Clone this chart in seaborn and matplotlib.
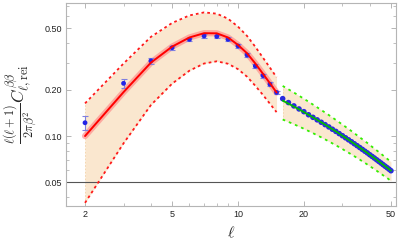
import numpy as np
import pandas as pd
import matplotlib
matplotlib.use('Agg')
import matplotlib.pyplot as plt
import matplotlib.ticker as mticker
import seaborn as sns

# low-ell part (red model, measured points)
ell_lo = [2, 3, 4, 5, 6, 7, 8, 9, 10, 11, 12, 13, 14, 15]
model_lo = [0.100, 0.193, 0.300, 0.381, 0.437, 0.466, 0.465, 0.437, 0.391, 0.345, 0.296, 0.254, 0.220, 0.192]
upper_lo = [0.163, 0.296, 0.441, 0.543, 0.608, 0.636, 0.624, 0.579, 0.514, 0.447, 0.380, 0.323, 0.278, 0.241]
lower_lo = [0.0368, 0.0897, 0.159, 0.219, 0.266, 0.296, 0.306, 0.295, 0.272, 0.243, 0.212, 0.185, 0.162, 0.143]
points_lo = [0.122, 0.220, 0.308, 0.375, 0.425, 0.447, 0.444, 0.425, 0.385, 0.336, 0.285, 0.247, 0.217, 0.192]
errors_lo = [0.013, 0.016, 0.015, 0.012, 0.010, 0.012, 0.012, 0.012, 0.011, 0.009, 0.008, 0.007, 0.006, 0.005]

# high-ell part (green model)
ell_hi = list(range(16, 51))
model_hi = [0.1698, 0.1624, 0.1555, 0.1491, 0.1431, 0.1375, 0.1323, 0.1274, 0.1229, 0.1186,
            0.1146, 0.1107, 0.1072, 0.1037, 0.1005, 0.0974, 0.0945, 0.0918, 0.0891, 0.0866,
            0.0842, 0.0819, 0.0797, 0.0777, 0.0756, 0.0737, 0.0719, 0.0701, 0.0684, 0.0668,
            0.0652, 0.0637, 0.0623, 0.0609, 0.0595]
upper_hi = [0.2116, 0.2012, 0.1917, 0.1829, 0.1747, 0.1672, 0.1602, 0.1537, 0.1477, 0.1421,
            0.1369, 0.1318, 0.1273, 0.1228, 0.1187, 0.1148, 0.1111, 0.1077, 0.1043, 0.1011,
            0.0981, 0.0953, 0.0925, 0.0901, 0.0875, 0.0851, 0.0829, 0.0807, 0.0787, 0.0767,
            0.0748, 0.0729, 0.0712, 0.0696, 0.0679]
lower_hi = [0.1280, 0.1236, 0.1193, 0.1153, 0.1115, 0.1078, 0.1044, 0.1011, 0.0981, 0.0951,
            0.0923, 0.0896, 0.0871, 0.0846, 0.0823, 0.0800, 0.0779, 0.0759, 0.0739, 0.0721,
            0.0703, 0.0685, 0.0669, 0.0653, 0.0637, 0.0623, 0.0609, 0.0595, 0.0581, 0.0569,
            0.0556, 0.0545, 0.0534, 0.0522, 0.0511]
points_hi = [0.175, 0.165, 0.157, 0.150, 0.144, 0.1375, 0.1323, 0.1274, 0.1229, 0.1186,
             0.1146, 0.1107, 0.1072, 0.1037, 0.1005, 0.0974, 0.0945, 0.0918, 0.0891, 0.0866,
             0.0842, 0.0819, 0.0797, 0.0777, 0.0756, 0.0737, 0.0719, 0.0701, 0.0684, 0.0668,
             0.0652, 0.0637, 0.0623, 0.0609, 0.0595]

threshold = 0.05

lo = pd.DataFrame({'ell': ell_lo, 'model': model_lo, 'up': upper_lo, 'low': lower_lo,
                   'pt': points_lo, 'err': errors_lo})
hi = pd.DataFrame({'ell': ell_hi, 'model': model_hi, 'up': upper_hi, 'low': lower_hi,
                   'pt': points_hi})

sns.set_style('ticks')
plt.rcParams['font.family'] = ['Liberation Sans', 'DejaVu Sans']
plt.rcParams['mathtext.fontset'] = 'cm'

fig = plt.figure(figsize=(3.99, 2.47), dpi=100)
ax = fig.add_axes([0.1654, 0.166, 0.827, 0.822])
ax.set_xscale('log')
ax.set_yscale('log')

band = '#fae7cf'
ax.fill_between(lo['ell'], lo['low'], lo['up'], color=band, lw=0, zorder=1)
ax.fill_between(hi['ell'], hi['low'], hi['up'], color=band, lw=0, zorder=1)
# faint dashed edges of the bands
for d in (lo, hi):
    ax.vlines(d['ell'].iloc[0], d['low'].iloc[0], d['up'].iloc[0], color='#f3d2a8', lw=0.6, ls=(0, (2, 2)), zorder=1)

ax.axhline(threshold, color='#555555', lw=0.8, zorder=2)

# red model with a light halo
sns.lineplot(data=lo, x='ell', y='model', ax=ax, color='#ff8080', lw=4.5, alpha=0.6, zorder=3)
sns.lineplot(data=lo, x='ell', y='up', ax=ax, color='#ff1a1a', lw=1.3, ls=(0, (1.5, 1.7)), zorder=3)
sns.lineplot(data=lo, x='ell', y='low', ax=ax, color='#ff1a1a', lw=1.3, ls=(0, (1.5, 1.7)), zorder=3)

ax.errorbar(lo['ell'], lo['pt'], yerr=lo['err'], fmt='none', ecolor='#8080e0', elinewidth=0.8,
            capsize=2, capthick=0.8, zorder=4)
sns.scatterplot(data=lo, x='ell', y='pt', ax=ax, color='#2424e6', s=12, edgecolor='none', zorder=5)
sns.lineplot(data=lo, x='ell', y='model', ax=ax, color='#ff0000', lw=1.4, zorder=6)

# green part
sns.lineplot(data=hi, x='ell', y='up', ax=ax, color='#33ee00', lw=1.3, ls=(0, (1.5, 2.2)), zorder=3)
sns.lineplot(data=hi, x='ell', y='low', ax=ax, color='#33ee00', lw=1.3, ls=(0, (1.5, 2.2)), zorder=3)
sns.scatterplot(data=hi, x='ell', y='pt', ax=ax, color='#2a2ae0', s=16, edgecolor='none', zorder=5)
sns.lineplot(data=hi, x='ell', y='model', ax=ax, color='#00bb00', lw=1.3, zorder=6)

ax.set_xlim(1.637, 52.7)
ax.set_ylim(0.0351, 0.7325)

ax.xaxis.set_major_locator(mticker.FixedLocator([2, 5, 10, 20, 50]))
ax.xaxis.set_major_formatter(mticker.FixedFormatter(['2', '5', '10', '20', '50']))
ax.xaxis.set_minor_locator(mticker.LogLocator(base=10, subs=np.arange(1, 10)))
ax.xaxis.set_minor_formatter(mticker.NullFormatter())
ax.yaxis.set_major_locator(mticker.FixedLocator([0.05, 0.1, 0.2, 0.5]))
ax.yaxis.set_major_formatter(mticker.FixedFormatter(['0.05', '0.10', '0.20', '0.50']))
ax.yaxis.set_minor_locator(mticker.LogLocator(base=10, subs=np.arange(1, 10)))
ax.yaxis.set_minor_formatter(mticker.NullFormatter())

for s in ax.spines.values():
    s.set_color('#b5b5b5')
    s.set_linewidth(0.8)
ax.tick_params(which='both', direction='in', top=True, right=True, color='#b5b5b5',
               labelsize=6.5, labelcolor='#222222', pad=3)
ax.tick_params(which='major', length=3.5, width=0.7)
ax.tick_params(which='minor', length=2, width=0.6)

ax.set_xlabel(r'$\ell$', fontsize=11.5, labelpad=4)
ax.set_ylabel(r'$\frac{\ell(\ell+1)}{2\pi\beta^2}C_{\ell,\mathrm{rei}}^{\beta\beta}$', fontsize=12.5, labelpad=3)

fig.savefig('out.png', dpi=100)
